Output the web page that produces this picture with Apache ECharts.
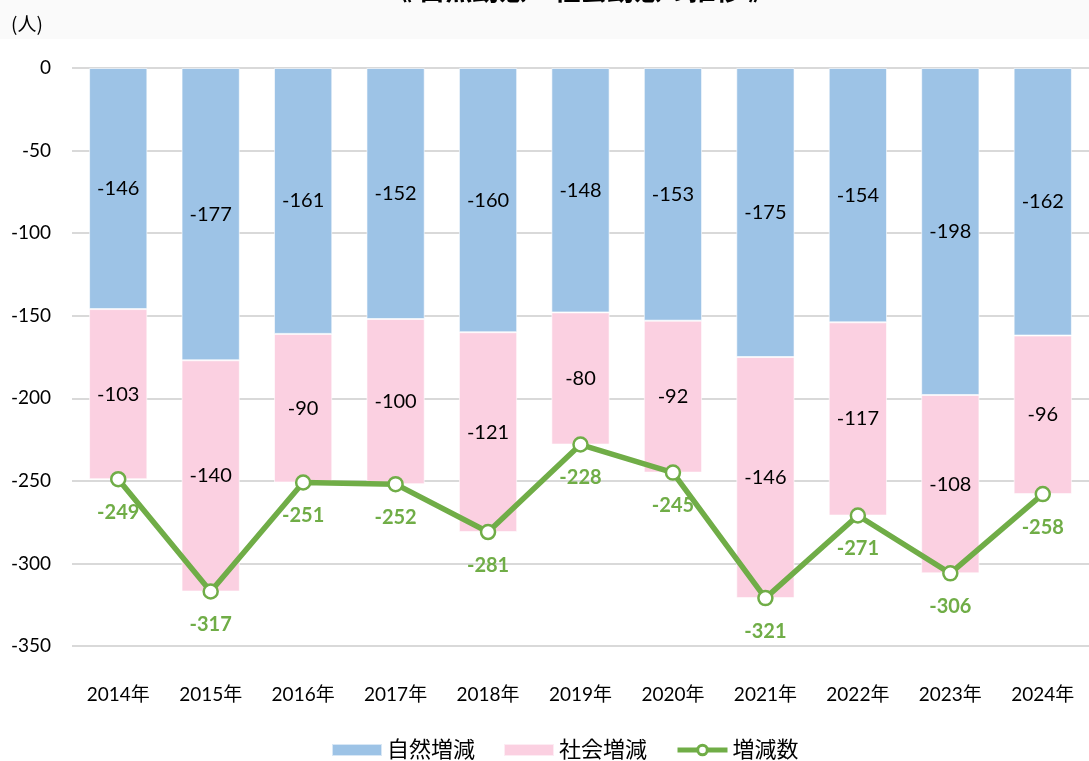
<!DOCTYPE html>
<html>
<head>
<meta charset="utf-8">
<script src="https://cdn.jsdelivr.net/npm/echarts@6/dist/echarts.min.js"></script>
<style>html,body{margin:0;padding:0;background:#fff}#c{width:1089px;height:761px}</style>
</head>
<body>
<div id="c"></div>
<script>
const categories = ['2014年','2015年','2016年','2017年','2018年','2019年','2020年','2021年','2022年','2023年','2024年'];
const natural = [-146,-177,-161,-152,-160,-148,-153,-175,-154,-198,-162];
const social = [-103,-140,-90,-100,-121,-80,-92,-146,-117,-108,-96];
const total = [-249,-317,-251,-252,-281,-228,-245,-321,-271,-306,-258];
const seriesNames = ['自然増減','社会増減','増減数'];
const titleText = '《 自然動態・社会動態の推移 》';
const unitText = '(人)';

const FONT = "Lato, 'Noto Sans CJK JP', sans-serif";
const chart = echarts.init(document.getElementById('c'));
chart.setOption({
  backgroundColor: '#ffffff',
  animation: false,
  textStyle: { fontFamily: FONT },
  graphic: [
    { type: 'rect', left: 0, top: 0, z: -10, shape: { width: 1089, height: 39 }, style: { fill: '#fafafa' } },
    { type: 'text', left: 11, top: 14, style: { text: unitText, font: "19px 'Noto Sans CJK JP'", fill: '#000' } },
    { type: 'text', left: 385, top: -24, style: { text: titleText, font: "bold 27px 'Noto Sans CJK JP'", fill: '#000' } }
  ],
  grid: { left: 72, right: -7, top: 68, bottom: 115 },
  legend: {
    bottom: -5, left: 326, itemGap: 28, itemWidth: 50, itemHeight: 12,
    textStyle: { fontSize: 22, color: '#000', fontFamily: FONT },
    data: [
      { name: seriesNames[0], icon: 'rect' },
      { name: seriesNames[1], icon: 'rect' },
      { name: seriesNames[2], itemStyle: { color: '#fff', borderColor: '#70AD47', borderWidth: 3 }, lineStyle: { color: '#70AD47', width: 5 } }
    ]
  },
  xAxis: {
    type: 'category', data: categories,
    axisLine: { show: false }, axisTick: { show: false },
    axisLabel: { color: '#000', fontSize: 19, margin: 39 }
  },
  yAxis: {
    type: 'value', min: -350, max: 0, interval: 50,
    axisLine: { show: false }, axisTick: { show: false },
    axisLabel: { color: '#000', fontSize: 19, margin: 21 },
    splitLine: { lineStyle: { color: '#d9d9d9', width: 2 } }
  },
  series: [
    {
      name: seriesNames[0], type: 'bar', stack: 'a', data: natural, barWidth: '63%',
      itemStyle: { color: '#9DC3E6', borderColor: 'rgba(255,255,255,0.6)', borderWidth: 1 },
      label: { show: true, position: 'inside', color: '#000', fontSize: 20 }
    },
    {
      name: seriesNames[1], type: 'bar', stack: 'a', data: social, barWidth: '63%',
      itemStyle: { color: '#FBD0E1', borderColor: 'rgba(255,255,255,0.6)', borderWidth: 1 },
      label: { show: true, position: 'inside', color: '#000', fontSize: 20 }
    },
    {
      name: seriesNames[2], type: 'line', data: total,
      symbol: 'circle', symbolSize: 14,
      lineStyle: { color: '#70AD47', width: 5.5 },
      itemStyle: { color: '#ffffff', borderColor: '#70AD47', borderWidth: 2.5 },
      label: { show: true, position: 'bottom', distance: 15, color: '#70AD47', fontSize: 20, fontWeight: 'bold' },
      z: 5
    }
  ]
});
</script>
</body>
</html>
